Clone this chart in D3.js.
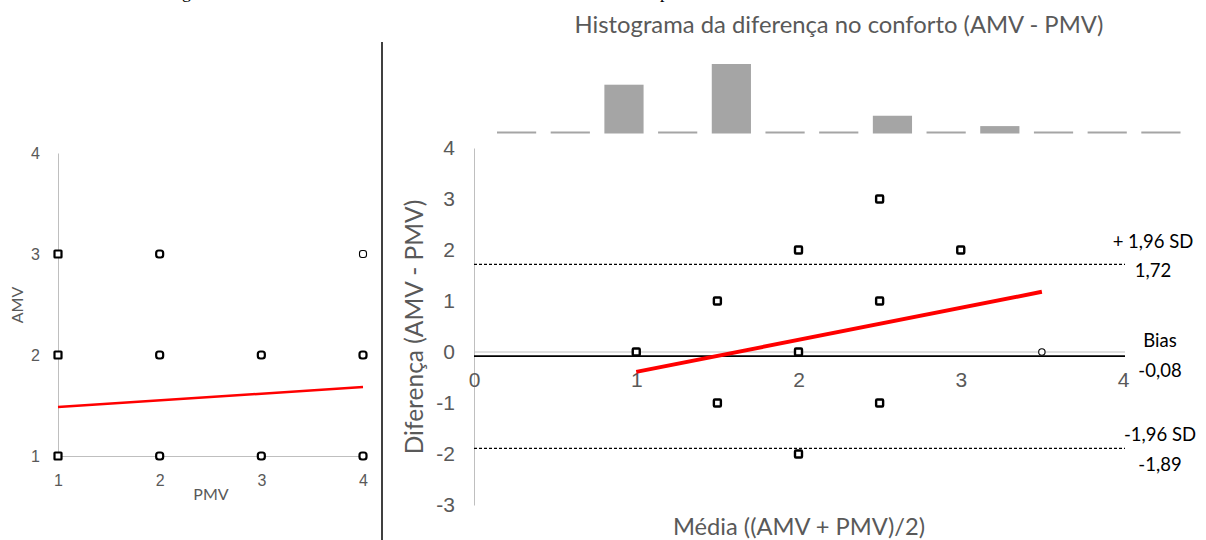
<!DOCTYPE html>
<html>
<head>
<meta charset="utf-8">
<script src="https://cdn.jsdelivr.net/npm/d3@7"></script>
<style>
  body { margin: 0; background: #fff; }
  svg { display: block; font-family: Lato, "Open Sans", sans-serif; }
  .axis path { stroke: #bfbfbf; }
  .axis text { fill: #595959; }
</style>
</head>
<body>
<div id="chart-area"></div>
<script>
// left scatter: PMV vs AMV
var pmv = [1, 2, 4, 1, 2, 3, 4, 1, 2, 3, 4];
var amv = [3, 3, 3, 2, 2, 2, 2, 1, 1, 1, 1];
var leftTicks = [1, 2, 3, 4];
var leftTrend = [[1, 1.485], [4, 1.683]];

// Bland-Altman: mean vs difference
var meanVals = [1, 1.5, 1.5, 2, 2, 2, 2.5, 2.5, 2.5, 3, 3.5];
var diffVals = [0, 1, -1, 2, 0, -2, 3, 1, -1, 2, 1];
var hollow = [false, false, false, false, false, false, false, false, false, false, true];
var xTicks = [0, 1, 2, 3, 4];
var yTicks = [-3, -2, -1, 0, 1, 2, 3, 4];
var bias = -0.08, upperLoA = 1.72, lowerLoA = -1.89;
var trend = [[1, -0.39], [3.5, 1.18]];

// histogram of the differences (13 bins)
var histBins = d3.range(13);
var histFreq = [0, 0, 7, 0, 10, 0, 0, 2.5, 0, 1, 0, 0, 0];

var svg = d3.select("#chart-area").append("svg")
    .attr("width", 1206)
    .attr("height", 540);

// clipped caption fragments from the page above
svg.append("text").attr("x", 182).attr("y", -2)
    .style("font-family", "Liberation Serif").style("font-size", "18px").text("g");
svg.append("text").attr("x", 660).attr("y", -2)
    .style("font-family", "Liberation Serif").style("font-size", "18px").text("p");

// separator
svg.append("line")
    .attr("x1", 382).attr("x2", 382).attr("y1", 42).attr("y2", 540)
    .attr("stroke", "#000").attr("stroke-width", 1.5);

// ---------- left chart ----------
var xL = d3.scaleLinear().domain([1, 4]).range([58, 363]);
var yL = d3.scaleLinear().domain([1, 4]).range([456, 153]);

svg.append("g").attr("class", "axis")
    .attr("transform", "translate(0,456)")
    .call(d3.axisBottom(xL).tickValues(leftTicks).tickSize(0).tickPadding(19).tickFormat((d) => d))
    .call(g => g.selectAll("text").style("font-size", "16px"));

svg.append("g").attr("class", "axis")
    .attr("transform", "translate(58,0)")
    .call(d3.axisLeft(yL).tickValues(leftTicks).tickSize(0).tickPadding(18).tickFormat((d) => d))
    .call(g => g.selectAll("text").style("font-size", "16px"));

svg.append("text").attr("x", 211).attr("y", 500)
    .attr("text-anchor", "middle").attr("fill", "#595959").style("font-size", "16px").text("PMV");
svg.append("text").attr("transform", "translate(23,305) rotate(-90)")
    .attr("text-anchor", "middle").attr("fill", "#595959").style("font-size", "16px").text("AMV");

svg.append("line")
    .attr("x1", xL(leftTrend[0][0])).attr("y1", yL(leftTrend[0][1]))
    .attr("x2", xL(leftTrend[1][0])).attr("y2", yL(leftTrend[1][1]))
    .attr("stroke", "#ff0000").attr("stroke-width", 2.5);

svg.selectAll(".lpt").data(pmv).enter()
    .append("rect").attr("class", "lpt")
    .attr("x", (d) => xL(d) - 3.5)
    .attr("y", (d, i) => yL(amv[i]) - 3.5)
    .attr("width", 7).attr("height", 7)
    .attr("rx", (d, i) => (d > 1 ? 2.5 : 0.5))
    .attr("fill", "#fff").attr("stroke", "#000")
    .attr("stroke-width", (d, i) => (i == 2 ? 1.1 : 2.2));

// ---------- histogram ----------
var xH = d3.scaleBand().domain(histBins).range([482.5, 1195]).padding(0.27);
var yH = d3.scaleLinear().domain([0, 10]).range([133, 64]);

svg.selectAll(".bar").data(histFreq).enter()
    .append("rect").attr("class", "bar")
    .attr("x", (d, i) => xH(i))
    .attr("width", xH.bandwidth())
    .attr("y", (d) => Math.min(yH(d), yH(0) - 1.5))
    .attr("height", (d) => Math.max(2, yH(0) - yH(d) + 0.5))
    .attr("fill", "#a5a5a5");

svg.append("text").attr("x", 839).attr("y", 33)
    .attr("text-anchor", "middle").attr("fill", "#595959").style("font-size", "23.8px")
    .text("Histograma da diferença no conforto (AMV - PMV)");

// ---------- Bland-Altman ----------
var xM = d3.scaleLinear().domain([0, 4]).range([474, 1123]);
var yM = d3.scaleLinear().domain([-3, 4]).range([505, 148]);

svg.append("g").attr("class", "axis")
    .attr("transform", "translate(474,0)")
    .call(d3.axisLeft(yM).tickValues(yTicks).tickSize(0).tickPadding(19).tickFormat((d) => d))
    .call(g => g.selectAll("text").style("font-size", "21px"));

svg.append("g").attr("class", "axis")
    .attr("transform", "translate(0," + yM(0) + ")")
    .call(d3.axisBottom(xM).tickValues(xTicks).tickSize(0).tickPadding(20).tickFormat((d) => d))
    .call(g => g.select(".domain").attr("d", "M" + xM(0) + ",0H" + (xM(4) + 2)))
    .call(g => g.selectAll("text").style("font-size", "21px"));

// limits of agreement, label offsets from the line
var limits = [
  { v: upperLoA, dash: true, top: "+ 1,96 SD", bot: "1,72", cx: 1153, dt: -16, db: 13 },
  { v: bias, dash: false, top: "Bias", bot: "-0,08", cx: 1160, dt: -9, db: 21 },
  { v: lowerLoA, dash: true, top: "-1,96 SD", bot: "-1,89", cx: 1160, dt: -7, db: 23 }
];

limits.forEach((l) => {
  svg.append("line")
      .attr("x1", xM(0)).attr("x2", xM(4) + 2)
      .attr("y1", yM(l.v)).attr("y2", yM(l.v))
      .attr("stroke", "#000")
      .attr("stroke-width", l.dash ? 1.2 : 1.6)
      .attr("stroke-dasharray", l.dash ? "3,2" : null);
  svg.append("text").attr("x", l.cx).attr("y", yM(l.v) + l.dt)
      .attr("text-anchor", "middle").style("font-size", "18.5px").text(l.top);
  svg.append("text").attr("x", l.cx).attr("y", yM(l.v) + l.db)
      .attr("text-anchor", "middle").style("font-size", "18.5px").text(l.bot);
});

svg.append("line")
    .attr("x1", xM(trend[0][0])).attr("y1", yM(trend[0][1]))
    .attr("x2", xM(trend[1][0])).attr("y2", yM(trend[1][1]))
    .attr("stroke", "#ff0000").attr("stroke-width", 4);

svg.selectAll(".mpt").data(meanVals).enter()
    .filter((d, i) => !hollow[i])
    .append("rect").attr("class", "mpt")
    .attr("x", (d) => xM(d) - 3.5)
    .attr("y", (d, i) => yM(diffVals[i]) - 3.5)
    .attr("width", 7).attr("height", 7)
    .attr("rx", 1)
    .attr("fill", "#fff").attr("stroke", "#000").attr("stroke-width", 2.4);

svg.selectAll(".mhol").data(meanVals).enter()
    .filter((d, i) => hollow[i])
    .append("circle").attr("class", "mhol")
    .attr("cx", (d) => xM(d))
    .attr("cy", (d, i) => yM(diffVals[i]))
    .attr("r", 3.2)
    .attr("fill", "#fff").attr("stroke", "#000").attr("stroke-width", 1.1);

svg.append("text").attr("transform", "translate(423,327) rotate(-90)")
    .attr("text-anchor", "middle").attr("fill", "#595959").style("font-size", "24.5px")
    .text("Diferença (AMV - PMV)");
svg.append("text").attr("x", 799).attr("y", 535)
    .attr("text-anchor", "middle").attr("fill", "#595959").style("font-size", "23.7px")
    .text("Média ((AMV + PMV)/2)");
</script>
</body>
</html>
